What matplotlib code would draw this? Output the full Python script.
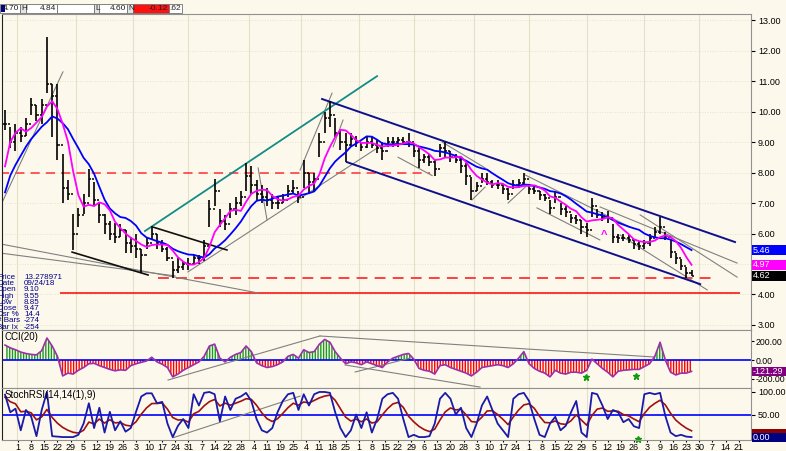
import numpy as np
import pandas as pd
import matplotlib.pyplot as plt
import matplotlib.transforms as mtransforms
from matplotlib.patches import Rectangle

plt.rcParams['font.family'] = ['Liberation Sans', 'DejaVu Sans']
plt.rcParams['hatch.linewidth'] = 1.0

W, H = 786, 451
bg = '#fcf9ec'

# price bars, one bar every 2 trading days (x in trading days)
high = [10.05, 9.5, 9.6, 9.5, 9.8, 10.45, 10.2, 10.4, 12.45, 10.9,
        10.9, 8.6, 7.75, 6.65, 6.85, 7.3, 8.1, 7.7, 7.0, 6.65,
        6.4, 6.35, 6.3, 6.1, 5.9, 6.0, 5.5, 5.9, 6.25, 6.0,
        5.8, 5.55, 5.1, 5.2, 5.1, 5.2, 5.3, 5.3, 5.8, 7.1,
        7.8, 6.8, 6.6, 7.0, 7.2, 7.4, 8.3, 8.2, 7.75, 7.6,
        7.5, 7.3, 7.2, 7.3, 7.6, 7.75, 7.4, 8.4, 8.0, 8.0,
        9.3, 10.0, 10.35, 9.8, 9.4, 9.3, 9.3, 9.2, 9.0, 9.2,
        9.15, 9.05, 9.0, 9.15, 9.15, 9.15, 9.15, 9.3, 8.95, 8.8,
        8.6, 8.6, 8.4, 8.95, 9.0, 8.7, 8.6, 8.45, 8.3, 7.85,
        7.7, 8.0, 7.97, 7.75, 7.75, 7.6, 7.5, 7.75, 7.8, 8.0,
        7.6, 7.6, 7.4, 7.3, 7.1, 7.4, 7.0, 6.9, 6.65, 6.6,
        6.45, 6.35, 7.15, 6.8, 6.7, 6.75, 6.3, 6.0, 6.0, 5.95,
        5.8, 5.75, 5.8, 6.0, 6.2, 6.55, 6.05, 5.8, 5.35, 5.15,
        4.9, 4.8]
low = [9.4, 8.8, 8.7, 9.0, 9.2, 9.9, 9.7, 9.6, 10.6, 9.15,
       8.4, 7.0, 7.1, 5.45, 6.2, 6.65, 7.2, 6.9, 6.35, 6.0,
       5.8, 5.7, 5.9, 5.35, 5.35, 5.2, 4.7, 5.5, 5.8, 5.5,
       5.4, 5.1, 4.55, 4.7, 4.8, 4.8, 5.0, 5.0, 5.1, 6.2,
       6.9, 6.2, 6.1, 6.5, 6.6, 6.9, 7.4, 7.3, 7.1, 7.0,
       6.9, 6.8, 6.8, 7.0, 7.2, 7.3, 7.0, 7.5, 7.3, 7.4,
       8.5, 9.3, 9.5, 9.15, 8.75, 8.35, 8.85, 8.85, 8.7, 8.8,
       8.8, 8.65, 8.4, 8.85, 8.85, 8.85, 8.9, 8.85, 8.5, 8.15,
       8.3, 8.2, 7.9, 8.5, 8.5, 8.35, 8.3, 8.0, 7.6, 7.1,
       7.4, 7.65, 7.6, 7.5, 7.45, 7.3, 7.1, 7.45, 7.5, 7.6,
       7.3, 7.3, 7.1, 7.05, 6.65, 7.0, 6.6, 6.55, 6.35, 6.3,
       6.0, 5.9, 6.55, 6.5, 6.4, 6.35, 5.7, 5.7, 5.75, 5.7,
       5.5, 5.45, 5.5, 5.6, 5.9, 6.0, 5.8, 5.2, 5.0, 4.8,
       4.55, 4.6]
close = [9.6, 9.0, 9.3, 9.2, 9.6, 10.2, 9.9, 10.2, 10.9, 10.5,
         8.9, 7.5, 7.3, 6.0, 6.6, 7.0, 7.8, 7.1, 6.6, 6.3,
         6.0, 5.9, 6.1, 5.7, 5.6, 5.5, 5.3, 5.7, 6.0, 5.7,
         5.5, 5.2, 4.8, 4.9, 5.0, 5.0, 5.2, 5.2, 5.6, 6.8,
         7.4, 6.4, 6.3, 6.8, 7.0, 7.2, 7.9, 7.6, 7.3, 7.2,
         7.1, 7.0, 7.0, 7.1, 7.4, 7.5, 7.2, 8.0, 7.7, 7.8,
         9.0, 9.8, 9.9, 9.3, 9.0, 8.9, 9.1, 9.0, 8.85, 9.0,
         8.9, 8.8, 8.7, 9.0, 9.0, 9.05, 9.0, 9.0, 8.7, 8.4,
         8.5, 8.35, 8.1, 8.8, 8.7, 8.5, 8.4, 8.2, 7.9, 7.4,
         7.55, 7.8, 7.7, 7.6, 7.6, 7.45, 7.3, 7.6, 7.65, 7.8,
         7.45, 7.4, 7.25, 7.15, 6.85, 7.2, 6.8, 6.7, 6.5, 6.45,
         6.2, 6.1, 6.9, 6.6, 6.55, 6.5, 5.9, 5.85, 5.85, 5.8,
         5.65, 5.6, 5.7, 5.85, 6.05, 6.2, 5.9, 5.4, 5.2, 4.95,
         4.7, 4.62]
# moving average values at the left edge (they use bars before the window)
ma_fast_head = [8.2, 9.0, 9.3, 9.45]
ma_slow_head = [7.35, 7.9, 8.25, 8.55, 8.85, 9.1, 9.3, 9.5, 9.65]

cci = [160, 130, 110, 85, 70, 60, 55, 100, 235, 150,
       40, -170, -140, -150, -110, -80, -40, -35, -60, -80,
       -100, -115, -105, -110, -60, -40, -25, -10, 30, -20,
       -45, -80, -180, -150, -110, -80, -50, -20, 40, 150,
       170, 20, -20, 30, 60, 80, 150, 90, -30, -60,
       -80, -70, -50, -20, 40, 60, 20, 110, 80, 90,
       170, 220, 190, 90, 20, -40, -20, -30, -50, -20,
       -40, -60, -80, -20, 20, 40, 60, 70, 10, -90,
       -110, -120, -150, -60, -50, -80, -100, -120, -140, -170,
       -130, -80, -70, -60, -50, -60, -80, -40, 20, 90,
       -40, -90, -120, -140, -180, -110, -140, -150, -130, -130,
       -140, -110, 10, -40, -90, -130, -180, -120, -110, -105,
       -100, -100, -70, -40, 40, 190, 0, -130, -160, -140,
       -140, -121.29]

stoch = [94, 55, 63, 15, 60, 45, 2, 60, 100, 2,
         1, 0, 0, 0, 5, 30, 75, 20, 65, 10,
         56, 15, 35, 12, 20, 56, 90, 97, 97, 75,
         78, 30, 0, 25, 40, 20, 95, 70, 98, 100,
         95, 35, 90, 60, 85, 90, 98, 80, 40, 15,
         10, 20, 55, 80, 95, 98, 60, 95, 70, 95,
         100, 100, 98, 55, 20, 0, 15, 50, 20, 55,
         10, 40, 85, 95, 98, 85, 40, 0, 5, 0,
         0, 2, 30, 85, 98, 85, 50, 65, 20, 0,
         30, 70, 90, 60, 30, 15, 0, 85, 95, 98,
         80, 40, 5, 0, 30, 45, 15, 25, 55, 80,
         10, 0, 98, 95, 70, 40, 60, 55, 33, 40,
         24, 20, 95, 98, 95, 98, 47, 10, 2, 5,
         1, 0]

week_labels = ['1', '8', '15', '22', '29', '5', '12', '19', '26', '3', '10', '17', '24', '31',
               '7', '14', '22', '28', '4', '11', '19', '25', '4', '11', '18', '25',
               '1', '8', '15', '22', '29', '6', '13', '20', '28', '3', '10', '17', '24',
               '1', '8', '15', '22', '29', '5', '12', '19', '26', '3', '9', '16', '23', '30',
               '7', '14', '21']
month_days = [4.5, 27, 49, 70, 93, 113, 135, 156, 179, 200, 222, 244, 265]
price_grid = [3, 4, 5, 6, 7, 8, 9, 10, 11, 12, 13]
price_ticks = [3, 4, 6, 7, 8, 9, 10, 11, 12, 13]   # 5.00 sits under the value boxes

# drawn lines: (day, price)
teal_line = [(53.4, 6.08), (142.0, 11.16)]
channel_upper = [(121.0, 10.41), (278.6, 5.72)]
channel_lower = [(130.5, 8.34), (265.3, 4.34)]
black_lines = [[(56.5, 6.21), (84.7, 5.46)], [(25.6, 5.39), (54.6, 4.64)]]
gray_lines = [[(-1.9, 5.66), (96.6, 4.05)], [(-1.9, 5.36), (64.9, 4.61)],
              [(-1.9, 6.87), (22.1, 11.3)], [(69.8, 4.74), (145.0, 8.97)],
              [(112.6, 8.08), (124.8, 10.6)], [(96.6, 8.15), (100.0, 6.44)],
              [(125.2, 8.84), (129.0, 9.72)], [(150.0, 8.5), (163.0, 7.9)],
              [(166.8, 9.0), (183.2, 8.15)], [(178.2, 7.1), (183.2, 7.52)],
              [(198.5, 7.92), (238.5, 6.21)], [(203.0, 6.84), (227.0, 5.79)],
              [(192.0, 7.0), (198.5, 7.52)], [(227.1, 6.87), (279.4, 5.03)],
              [(242.4, 6.61), (279.4, 4.57)], [(234.7, 5.95), (268.0, 4.15)]]
cci_lines = [[(62.2, -214), (120.2, 257)], [(120.2, 257), (248.0, 32)],
             [(129.8, -53), (181.3, -289)], [(133.6, -128), (154.6, 21)]]
stoch_lines = [[(64.1, -1.6), (112.6, 90.8)]]

info_labels = ['Price', 'Date', 'Open', 'High', 'Low', 'Close', 'Csr %', '# Bars', 'Bar Ix']
info_values = ['13.278971', '09/24/18', '9.10', '9.55', '8.85', '9.47', '14.4', '-274', '-254']


def ema(vals, alpha, start):
    out = []
    v = start
    for c in vals:
        v = v + alpha * (c - v)
        out.append(v)
    return np.array(out)


def px_box(x0, y0, x1, y1):
    return [x0 / W, 1 - y1 / H, (x1 - x0) / W, (y1 - y0) / H]


def value_box(ax, y, text, fc, h_px=10, tc='white'):
    # box on the right-hand scale: x in figure pixels, y in data units
    y0, y1 = ax.get_ylim()
    unit = (y1 - y0) / (ax.get_position().height * H)
    tr = mtransforms.blended_transform_factory(fig.transFigure, ax.transData)
    fig.patches.append(Rectangle((752 / W, y - h_px / 2 * unit), 34 / W, h_px * unit,
                                 transform=tr, fc=fc, ec='none', zorder=5))
    if text:
        fig.text(753 / W, y, text, transform=tr, color=tc, fontsize=6.5, va='center',
                 ha='left', zorder=6)


x = np.arange(len(close)) * 2.0
opens = [close[0]] + close[:-1]
ma_fast = pd.Series(close).rolling(5).mean().to_numpy()
ma_fast[:len(ma_fast_head)] = ma_fast_head
ma_slow = pd.Series(close).rolling(10).mean().to_numpy()
ma_slow[:len(ma_slow_head)] = ma_slow_head
signal = ema(stoch, 0.3, 86)

fig = plt.figure(figsize=(W / 100, H / 100), dpi=100, facecolor=bg)
ax1 = fig.add_axes(px_box(2, 14, 751, 330))
ax2 = fig.add_axes(px_box(2, 330, 751, 388), sharex=ax1)
ax3 = fig.add_axes(px_box(2, 388, 751, 440), sharex=ax1)

for ax in (ax1, ax2, ax3):
    ax.set_facecolor(bg)
    for d in month_days:
        ax.axvline(d, color='#e6e0c8', lw=0.8, zorder=0)
    for s in ax.spines.values():
        s.set_color('#909090')
        s.set_linewidth(0.8)
    ax.spines['left'].set_color('#202020')
    ax.yaxis.tick_right()
    ax.tick_params(axis='y', labelsize=6.5, length=3, pad=2, colors='black')
    ax.tick_params(axis='x', length=1.5, labelsize=6.5, pad=0.3)
ax2.tick_params(axis='y', labelsize=6.3, length=2, pad=1)

ax1.set_xlim(-1.15, 284.7)
ax1.set_ylim(2.836, 13.197)
ax2.set_ylim(-299, 321)
ax3.set_ylim(-6.5, 108.8)

# main panel
for p in price_grid:
    ax1.axhline(p, color='#e2dcc4', lw=0.6, ls=(0, (1, 2)), zorder=0)
ax1.set_yticks(price_ticks, ['%.2f' % p for p in price_ticks])
ax1.tick_params(axis='x', labelbottom=False, length=0)
ax2.tick_params(axis='x', labelbottom=False, length=0)

ax1.hlines(8.0, -1.9, 162.2, color='#ff3030', lw=1.1, ls=(0, (6, 4)), zorder=1)
ax1.hlines(4.54, 58.4, 270.2, color='#ff3030', lw=1.3, ls=(0, (6, 4)), zorder=1)
ax1.hlines(4.05, 21.0, 280.5, color='#ff0000', lw=1.1, zorder=1)

for seg in gray_lines:
    ax1.plot([seg[0][0], seg[1][0]], [seg[0][1], seg[1][1]], color='#808080', lw=0.8, zorder=2)
for seg in black_lines:
    ax1.plot([seg[0][0], seg[1][0]], [seg[0][1], seg[1][1]], color='#101010', lw=1.2, zorder=2)
ax1.plot([p[0] for p in teal_line], [p[1] for p in teal_line], color='#138c86', lw=1.3, zorder=2)
for seg in (channel_upper, channel_lower):
    ax1.plot([p[0] for p in seg], [p[1] for p in seg], color='#10108c', lw=1.4, zorder=2)

ax1.vlines(x, low, high, color='black', lw=1.2, zorder=3)
ax1.hlines(opens, x - 0.8, x, color='black', lw=1.1, zorder=3)
ax1.hlines(close, x, x + 0.8, color='black', lw=1.1, zorder=3)
ax1.plot(x, ma_slow, color='#0000ff', lw=1.3, zorder=4)
ax1.plot(x, ma_fast, color='#ff00ff', lw=1.3, zorder=4)
ax1.text(228.6, 5.95, '^', color='#ff00ff', fontsize=8, ha='center', va='center', fontweight='bold')

value_box(ax1, ma_slow[-1], '%.2f' % ma_slow[-1], '#0000ff')
value_box(ax1, ma_fast[-1], '%.2f' % ma_fast[-1], '#ff00ff')
value_box(ax1, close[-1], '%.2f' % close[-1], '#000000')

for i, (lab, val) in enumerate(zip(info_labels, info_values)):
    y = 1 - (277.5 + 6.2 * i) / H
    fig.text(-3 / W, y, lab, fontsize=5.8, color='#00008b', va='center')
    fig.text(24 / W, y, val, fontsize=5.8, color='#00008b', va='center')

# CCI panel
cci_arr = np.array(cci, dtype=float)
ax2.fill_between(x, 0, cci_arr, where=cci_arr >= 0, interpolate=True, facecolor='none',
                 edgecolor='#1a9a1a', hatch='||||||', lw=0)
ax2.fill_between(x, 0, cci_arr, where=cci_arr <= 0, interpolate=True, facecolor='none',
                 edgecolor='#ff0000', hatch='||||||', lw=0)
ax2.axhline(0, color='#0000ff', lw=1.2)
for seg in cci_lines:
    ax2.plot([seg[0][0], seg[1][0]], [seg[0][1], seg[1][1]], color='#808080', lw=0.8)
ax2.plot(x, cci_arr, color='#9b30a8', lw=1.2)
ax2.plot([221.8, 240.8], [-182, -171], ls='none', marker='*', color='#109a10', ms=5)
ax2.set_yticks([-200, 0, 200], ['-200.00', '0.00', '200.00'])
ax2.text(0.004, 0.97, 'CCI(20)', transform=ax2.transAxes, fontsize=7, va='top')
value_box(ax2, cci[-1], '%.2f' % cci[-1], '#800080', h_px=9)

# StochRSI panel
ax3.axhline(50, color='#0000ff', lw=1.2)
for seg in stoch_lines:
    ax3.plot([seg[0][0], seg[1][0]], [seg[0][1], seg[1][1]], color='#808080', lw=0.8)
ax3.plot(x, signal, color='#a01010', lw=1.2)
ax3.plot(x, stoch, color='#1a1aa8', lw=1.3)
ax3.plot([241.6], [-4], ls='none', marker='*', color='#109a10', ms=5, clip_on=False)
ax3.set_yticks([50, 100], ['50.00', '100.00'])
ax3.text(0.004, 0.97, 'StochRSI(14,14(1),9)', transform=ax3.transAxes, fontsize=7, va='top')
value_box(ax3, 11, '', '#8b0000', h_px=6)
value_box(ax3, stoch[-1] - 1, '%.2f' % stoch[-1], '#000080', h_px=9)
ax3.set_xticks([5 + 5 * j for j in range(len(week_labels))], week_labels)

# header strip
header = [(0, 20, '4.70', 'white'), (20, 26, 'H', '#e4e4e4'), (26, 57, '4.84', 'white'),
          (57, 94, '', 'white'), (94, 99, 'L', '#e4e4e4'), (99, 127, '4.60', 'white'),
          (127, 133, 'N', '#e4e4e4'), (133, 169, '-0.12', '#ff1010'), (169, 182, '.62', 'white')]
for x0, x1, txt, fc in header:
    fig.patches.append(Rectangle((x0 / W, 1 - 13 / H), (x1 - x0) / W, 9 / H,
                                 transform=fig.transFigure, fc=fc, ec='#707070', lw=0.6))
    if txt:
        ha = 'left' if len(txt) == 1 else 'right'
        tx = x0 + 1 if ha == 'left' else x1 - 1
        fig.text(tx / W, 1 - 8.5 / H, txt, fontsize=6, ha=ha, va='center', color='#202020')
fig.patches.append(Rectangle((1 / W, 1 - 12 / H), 4 / W, 7 / H, transform=fig.transFigure,
                             fc='#000080', ec='none'))

fig.savefig('out.png', dpi=100, facecolor=bg)
